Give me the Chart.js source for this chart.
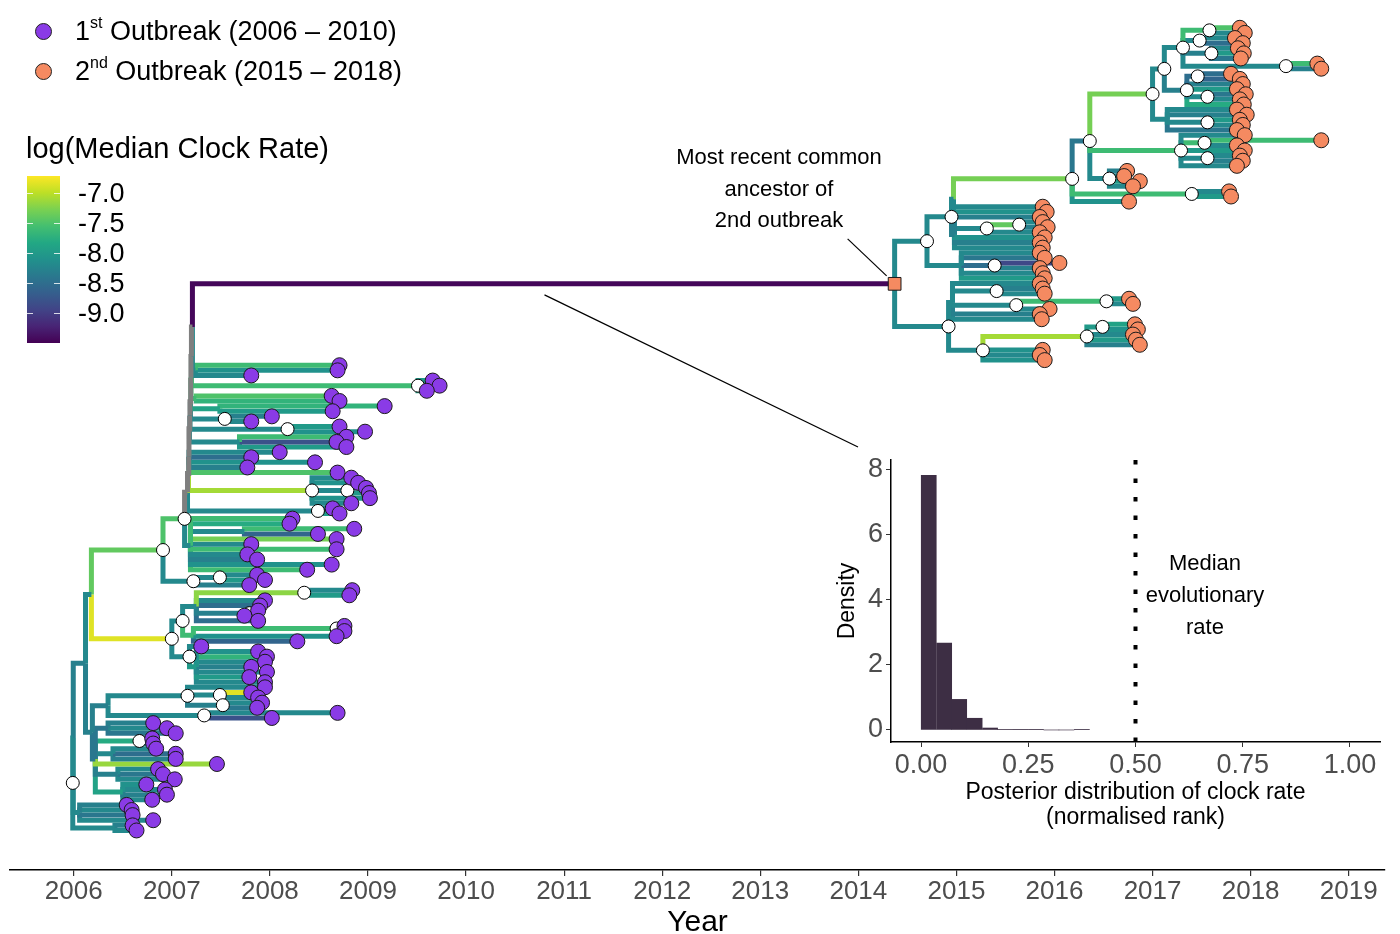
<!DOCTYPE html>
<html>
<head>
<meta charset="utf-8">
<script src="https://cdn.jsdelivr.net/npm/chart.js@4.4.1/dist/chart.umd.min.js"></script>
<style>
  body { margin: 0; background: #fff; font-family: "Liberation Sans", Arial, sans-serif; }
  #wrap { position: relative; width: 1400px; height: 934px; overflow: hidden; }
  #tree { position: absolute; left: 0; top: 0; }
  #inset { position: absolute; left: 820px; top: 440px; }
  .txt { position: absolute; color: #000; white-space: nowrap; }
  .leg { font-size: 27px; line-height: 30px; }
  .leg sup { font-size: 16px; vertical-align: 12px; line-height: 0; }
  .dot { position: absolute; width: 15px; height: 15px; border-radius: 50%; border: 1px solid #222; }
  .note { font-size: 22px; line-height: 31.5px; text-align: center; }
</style>
</head>
<body>
<div id="wrap">
  <canvas id="tree" width="1400" height="934"></canvas>
  <canvas id="inset" width="575" height="400"></canvas>

  <div class="dot" style="left:35px;top:23px;background:#8a3be6"></div>
  <div class="txt leg" style="left:75px;top:16px">1<sup>st</sup> Outbreak (2006 – 2010)</div>
  <div class="dot" style="left:35px;top:63px;background:#f58a61"></div>
  <div class="txt leg" style="left:75px;top:56px">2<sup>nd</sup> Outbreak (2015 – 2018)</div>
  <div class="txt" style="left:26px;top:132px;font-size:29px;line-height:32px">log(Median Clock Rate)</div>
  <div id="colorbar" style="position:absolute;left:27px;top:176px;width:33px;height:167px"></div>

  <div class="txt note" style="left:629px;top:141px;width:300px">Most recent common<br>ancestor of<br>2nd outbreak</div>
  <div class="txt" style="left:1105px;top:547px;width:200px;font-size:22px;line-height:32px;text-align:center">Median<br>evolutionary<br>rate</div>
</div>

<script>
// ---------- data ----------
const yearTicks = [2006, 2007, 2008, 2009, 2010, 2011, 2012, 2013, 2014, 2015, 2016, 2017, 2018, 2019];
const rateTicks = [-7.0, -7.5, -8.0, -8.5, -9.0];
const rateMin = -9.5, rateMax = -6.72;

// histogram of normalised rank of the clock rate
const rankBinCentres = [0.018, 0.054, 0.089, 0.125, 0.161, 0.196, 0.232, 0.268, 0.304, 0.339, 0.375];
const rankDensity = [7.83, 2.67, 0.94, 0.36, 0.06, 0.02, 0.01, 0.01, 0, 0, 0.01];
const rankTicks = [0, 0.25, 0.5, 0.75, 1];
const densityTicks = [0, 2, 4, 6, 8];
const medianRank = 0.5;

// tree nodes: tip = [year, log rate]; internal = [year, log rate, marker, children]
// marker 0 none, 1 white node, 2 square (MRCA of 2nd outbreak); null rate = grey branch

// 2nd outbreak
const tcTopA = [2017.31, -8.2, 1, [
  [2017.58, -7.6, 1, [[2017.89, -7.5], [2017.94, -8.2]]],
  [2017.48, -8.2, 1, [[2017.84, -8.2], [2017.92, -8.5]]],
  [2017.60, -8.3, 1, [[2017.87, -8.2], [2017.93, -8.0], [2017.90, -8.4]]],
  [2018.36, -8.2, 1, [[2018.68, -7.6], [2018.72, -8.3]]]
]];
const tcTopB = [2017.35, -8.3, 1, [
  [2017.46, -8.5, 1, [[2017.80, -8.5], [2017.89, -8.6]]],
  [2017.92, -8.3],
  [2017.86, -8.0],
  [2017.56, -8.2, 1, [[2017.95, -8.4], [2017.89, -8.2]]],
  [2017.93, -7.8]
]];
const tcLower = [2017.15, -8.2, 0, [
  [2017.86, -8.2], [2017.96, -8.3],
  [2017.56, -8.2, 1, [[2017.89, -8.0], [2017.92, -8.2]]],
  [2017.86, -8.4]
]];
const topClade = [2017.00, -7.3, 1, [[2017.12, -8.2, 1, [tcTopA, tcTopB]], tcLower]];
const greenClade = [2017.29, -7.6, 1, [
  [2017.94, -8.2],
  [2017.53, -7.6, 1, [[2018.72, -7.6], [2017.86, -8.2]]],
  [2017.94, -8.0],
  [2017.56, -8.2, 1, [[2017.89, -8.2], [2017.92, -8.3]]],
  [2017.86, -8.2]
]];
const midClade = [2016.56, -8.2, 1, [[2016.74, -8.3], [2016.71, -8.2], [2016.87, -8.0], [2016.80, -8.2]]];
const upperClade = [2016.18, -7.3, 1, [
  [2016.36, -8.4, 1, [topClade, greenClade, midClade]],
  [2017.40, -7.6, 1, [[2017.78, -8.2], [2017.80, -8.0]]],
  [2016.76, -8.1]
]];
const u1Top = [2014.97, -8.2, 0, [upperClade, [2015.88, -8.2], [2015.92, -8.1]]];
const u1Low = [2014.98, -8.3, 0, [
  [2015.85, -8.3],
  [2015.31, -8.2, 1, [[2015.64, -7.4, 1, [[2015.88, -8.2], [2015.93, -8.3]]], [2015.85, -8.2]]],
  [2015.90, -8.1], [2015.85, -8.3], [2015.88, -8.2]
]];
const u2 = [2015.05, -8.2, 0, [
  [2015.85, -8.2], [2015.90, -8.4],
  [2015.39, -8.5, 1, [[2016.05, -8.9], [2015.85, -8.3]]],
  [2015.88, -8.2], [2015.90, -8.0]
]];
const l1 = [2014.96, -8.2, 0, [
  [2015.85, -8.2],
  [2015.41, -8.2, 1, [[2015.88, -8.3], [2015.90, -8.2]]],
  [2015.61, -8.2, 1, [[2016.53, -7.6, 1, [[2016.76, -8.0], [2016.80, -8.2]]], [2015.95, -8.2]]],
  [2015.85, -8.3], [2015.87, -8.2]
]];
const l2 = [2015.27, -8.2, 1, [
  [2016.33, -7.1, 1, [[2016.49, -8.0, 1, [[2016.82, -7.9], [2016.85, -8.1]]], [2016.80, -8.2], [2016.83, -8.0], [2016.87, -8.3]]],
  [2015.88, -8.1], [2015.85, -8.2], [2015.90, -8.1]
]];
const secondOutbreak = [2014.37, -9.45, 2, [
  [2014.70, -8.2, 1, [[2014.95, -8.2, 1, [u1Top, u1Low]], u2]],
  [2014.92, -8.2, 1, [l1, l2]]
]];

// 1st outbreak
const stemToP = [2007.24, -8.2, 0, [[2008.71, -7.6], [2008.69, -8.1], [2007.81, -8.2]]];
const splitNode = [2007.21, null, 0, [secondOutbreak, stemToP]];
const combA = [2009.51, -7.6, 1, [[2009.66, -8.0], [2009.73, -8.2], [2009.60, -7.9]]];
const combB = [2007.25, -7.6, 0, [[2008.63, -7.5], [2008.71, -7.7]]];
const combC = [2007.49, -7.9, 0, [[2009.17, -7.7], [2008.64, -8.0]]];
const combD = [2007.54, -8.2, 1, [[2008.02, -8.3], [2007.81, -8.2]]];
const combE = [2008.18, -8.2, 1, [[2008.71, -8.0], [2008.97, -8.1]]];
const combF = [2007.69, -8.2, 0, [[2008.78, -7.6], [2008.68, -8.8], [2008.78, -8.0]]];
const combG = [[2008.10, -8.2], [2007.81, -8.5], [2008.46, -8.1], [2007.77, -8.3], [2008.69, -7.5]];
const combH = [2008.43, -7.1, 1, [[2008.83, -8.2], [2008.90, -8.1], [2008.79, -8.2, 1, [[2008.98, -8.2], [2009.01, -8.0]]], [2009.02, -8.1], [2008.83, -8.2]]];
const combI = [2008.49, -8.2, 1, [[2008.64, -8.2], [2008.71, -8.0]]];
const ladder8 = [2007.200, null, 0, [splitNode, combA]];
const ladder7 = [2007.195, null, 0, [ladder8, combB]];
const ladder6 = [2007.190, null, 0, [ladder7, combC, combD]];
const ladder5 = [2007.185, null, 0, [ladder6, combE]];
const ladder4 = [2007.180, null, 0, [ladder5, combF]];
const ladder3 = [2007.175, null, 0, [ladder4, ...combG]];
const ladder2 = [2007.170, null, 0, [ladder3, combH]];
const ladder1 = [2007.160, null, 0, [ladder2, combI]];
const lowerComb = [2007.19, -8.2, 0, [
  [2008.23, -7.6], [2008.20, -7.8],
  [2007.74, -8.2, 0, [[2008.86, -7.6], [2008.49, -8.6]]],
  [2008.68, -7.3], [2007.81, -8.2], [2008.68, -7.6], [2007.77, -8.2], [2007.87, -8.3], [2008.63, -8.1], [2008.38, -7.6]
]];
const backboneBase = [2007.13, -7.5, 1, [ladder1, lowerComb]];
const sideClade = [2007.22, -8.2, 1, [[2007.49, -8.2, 1, [[2007.87, -8.2], [2007.95, -8.0]]], [2007.79, -8.3]]];
const greenBranch = [2006.91, -7.4, 1, [backboneBase, sideClade]];
const yellowUpper = [2007.11, -8.2, 1, [
  [2007.25, -8.2, 0, [
    [2008.35, -7.2, 1, [[2008.84, -8.2], [2008.81, -8.0]]],
    [2007.95, -8.2], [2007.90, -8.5],
    [2007.79, -8.3, 1, [[2007.88, -8.5], [2007.74, -8.3]]],
    [2007.88, -8.5]
  ]],
  [2007.22, -7.6, 0, [
    [2008.68, -7.6, 1, [[2008.76, -8.2], [2008.76, -8.0]]],
    [2008.68, -8.1], [2008.28, -8.6]
  ]]
]];
const yellowLower = [2007.18, -8.2, 1, [
  [2007.30, -8.2],
  [2007.25, -8.0, 0, [[2007.88, -8.1], [2007.97, -7.7], [2007.95, -8.2], [2007.81, -8.3], [2007.97, -8.2], [2007.79, -8.0], [2007.95, -8.2]]]
]];
const yellowBranch = [2007.00, -6.85, 1, [yellowUpper, yellowLower]];
const earlySplit = [2006.18, -8.2, 0, [greenBranch, yellowBranch]];
const zUpper = [2006.35, -8.3, 0, [
  [2007.16, -8.2, 1, [[2007.95, -8.2], [2007.49, -8.2, 1, [[2007.81, -6.85], [2007.88, -8.2]]], [2007.52, -8.3, 1, [[2007.92, -8.2], [2007.87, -8.4]]]]],
  [2007.33, -8.2, 1, [[2008.69, -8.2], [2008.02, -8.8]]]
]];
const zLower = [2006.22, -8.4, 0, [
  [2006.35, -8.4, 0, [[2006.81, -8.3], [2006.95, -8.2], [2007.04, -8.4]]],
  [2006.67, -7.8, 1, [[2006.80, -8.0], [2006.81, -8.2]]],
  [2006.40, -8.2, 0, [[2006.84, -8.2], [2007.04, -8.5], [2007.04, -8.3]]],
  [2007.46, -7.15],
  [2006.45, -8.3, 0, [[2006.86, -8.2], [2006.91, -8.4], [2007.03, -8.2]]],
  [2006.50, -7.9, 0, [[2006.74, -8.1], [2006.93, -8.2], [2006.95, -8.3], [2006.80, -8.2]]]
]];
const lateSplit = [2006.19, -8.3, 0, [zUpper, zLower]];
const rootUpper = [2006.12, -8.3, 0, [earlySplit, lateSplit]];
const rootLower = [2006.06, -8.2, 0, [[2006.54, -8.3], [2006.59, -8.2], [2006.60, -8.4], [2006.81, -8.2]]];
const rootBottom = [2006.42, -8.2, 0, [[2006.60, -8.3], [2006.64, -8.2]]];
const treeRoot = [2005.99, null, 1, [[2005.995, -8.2, 0, [rootUpper, rootLower]], rootBottom]];

// ---------- colours ----------
const viridisStops = ['#440154', '#482475', '#414487', '#355f8d', '#2a788e', '#21918c', '#22a884', '#44bf70', '#7ad151', '#bddf26', '#fde725'];
function hex(h) { return [1, 3, 5].map(i => parseInt(h.substr(i, 2), 16)); }
function viridis(t) {
  t = Math.max(0, Math.min(1, t));
  const p = t * (viridisStops.length - 1);
  const i = Math.min(viridisStops.length - 2, Math.floor(p)), f = p - i;
  const a = hex(viridisStops[i]), b = hex(viridisStops[i + 1]);
  return 'rgb(' + a.map((c, k) => Math.round(c + (b[k] - c) * f)).join(',') + ')';
}
function rateColour(r) { return r === null ? '#7f7f7f' : viridis((r - rateMin) / (rateMax - rateMin)); }

// ---------- tree layout (tips in order, internal node = mean of children) ----------
const nodes = [];
let tipCount = 0;
function place(node, parent, group) {
  const [year, rate, mark, kids] = node;
  const item = { year, rate, mark, parent, group: mark === 2 ? 2 : group, tip: !kids };
  nodes.push(item);
  if (kids) {
    const ys = kids.map(k => place(k, item, item.group).y);
    item.y = ys.reduce((a, b) => a + b, 0) / ys.length;
  } else {
    item.y = tipCount++;
  }
  return item;
}
place(treeRoot, null, 1);
const mrca = nodes.find(n => n.mark === 2);

const datasets = [];
nodes.filter(n => n.parent).forEach(n => {
  datasets.push({
    type: 'line',
    data: [{ x: n.parent.year, y: n.parent.y }, { x: n.parent.year, y: n.y }, { x: n.year, y: n.y }],
    borderColor: rateColour(n.rate),
    borderWidth: 5,
    pointRadius: 0,
    tension: 0,
    borderJoinStyle: 'miter',
    order: 3
  });
});
const pt = n => ({ x: n.year, y: n.y });
datasets.push({
  type: 'scatter', data: nodes.filter(n => n.mark === 1).map(pt),
  pointRadius: 6.5, pointBackgroundColor: '#fff', pointBorderColor: '#000', pointBorderWidth: 1, order: 2
});
datasets.push({
  type: 'scatter', data: nodes.filter(n => n.tip && n.group === 1).map(pt),
  pointRadius: 7.5, pointBackgroundColor: '#8a3be6', pointBorderColor: '#1a1a1a', pointBorderWidth: 1, order: 1
});
datasets.push({
  type: 'scatter', data: nodes.filter(n => n.tip && n.group === 2).map(pt),
  pointRadius: 7.5, pointBackgroundColor: '#f58a61', pointBorderColor: '#1a1a1a', pointBorderWidth: 1, order: 1
});
datasets.push({
  type: 'scatter', data: [pt(mrca)], pointStyle: 'rect',
  pointRadius: 9, pointBackgroundColor: '#f58a61', pointBorderColor: '#1a1a1a', pointBorderWidth: 1, order: 0
});

// first tip sits 18px below the top, last tip at 830px (axis at 870)
const ySpan = (tipCount - 1) * 870 / 812;
const yMin = -18 / 870 * ySpan;

Chart.defaults.font.family = "'Liberation Sans', Arial, sans-serif";

const connectors = {
  id: 'connectors',
  afterDatasetsDraw(chart) {
    const { ctx, scales: { x, y } } = chart;
    const mx = x.getPixelForValue(mrca.year), my = y.getPixelForValue(mrca.y);
    ctx.save();
    ctx.strokeStyle = '#000';
    ctx.lineWidth = 1.2;
    ctx.beginPath();
    ctx.moveTo(mx - 47, my - 45);
    ctx.lineTo(mx - 8, my - 8);
    ctx.stroke();
    ctx.beginPath();
    ctx.moveTo(x.getPixelForValue(2010.8), my + 11);
    ctx.lineTo(858, 447);
    ctx.stroke();
    ctx.restore();
  }
};

new Chart(document.getElementById('tree'), {
  type: 'line',
  data: { datasets },
  options: {
    responsive: false,
    animation: false,
    events: [],
    layout: { padding: { left: 10, right: 15, top: 0, bottom: 0 } },
    plugins: { legend: { display: false }, tooltip: { enabled: false } },
    scales: {
      x: {
        type: 'linear', min: 2005.35, max: 2019.37,
        afterBuildTicks: s => { s.ticks = yearTicks.map(v => ({ value: v })); },
        afterFit: s => { s.height = 64; },
        grid: { display: true, drawOnChartArea: false, drawTicks: true, tickLength: 6, color: '#333', lineWidth: 1.2 },
        border: { display: true, color: '#000', width: 1.5 },
        ticks: { color: '#4d4d4d', font: { size: 26 }, padding: 0, maxRotation: 0, autoSkip: false, callback: v => String(v) },
        title: { display: true, text: 'Year', color: '#000', font: { size: 30, lineHeight: 1 }, padding: { top: 0, bottom: -4 } }
      },
      y: { type: 'linear', reverse: true, display: false, min: yMin, max: yMin + ySpan }
    }
  },
  plugins: [connectors]
});

// ---------- inset histogram ----------
new Chart(document.getElementById('inset'), {
  type: 'bar',
  data: {
    datasets: [
      {
        type: 'line',
        data: [{ x: medianRank, y: -0.37 }, { x: medianRank, y: 8.3 }],
        borderColor: '#000', borderWidth: 4, borderDash: [4.5, 14], pointRadius: 0, order: 0
      },
      {
        type: 'bar',
        data: rankBinCentres.map((x, i) => ({ x, y: rankDensity[i] })),
        backgroundColor: '#3d2e44', borderWidth: 0, barPercentage: 1, categoryPercentage: 1, order: 1
      }
    ]
  },
  options: {
    responsive: false,
    animation: false,
    events: [],
    layout: { padding: { left: 0, right: 15, top: 20, bottom: 0 } },
    plugins: { legend: { display: false }, tooltip: { enabled: false } },
    scales: {
      x: {
        type: 'linear', min: -0.07, max: 1.07, offset: false,
        afterBuildTicks: s => { s.ticks = rankTicks.map(v => ({ value: v })); },
        afterFit: s => { s.height = 98; },
        grid: { display: true, offset: false, drawOnChartArea: false, drawTicks: true, tickLength: 5, color: '#333' },
        border: { display: true, color: '#000', width: 1.5 },
        ticks: { color: '#4d4d4d', font: { size: 27 }, padding: 2, maxRotation: 0, autoSkip: false, callback: v => v.toFixed(2) },
        title: {
          display: true, text: ['Posterior distribution of clock rate', '(normalised rank)'],
          color: '#000', font: { size: 23, lineHeight: 1.09 }, padding: { top: 0, bottom: 10 }
        }
      },
      y: {
        type: 'linear', min: -0.37, max: 8.3,
        afterBuildTicks: s => { s.ticks = densityTicks.map(v => ({ value: v })); },
        afterFit: s => { s.width = 71; },
        grid: { display: true, drawOnChartArea: false, drawTicks: true, tickLength: 5, color: '#333' },
        border: { display: true, color: '#000', width: 1.5 },
        ticks: { color: '#4d4d4d', font: { size: 27 }, padding: 3, callback: v => String(v) },
        title: { display: true, text: 'Density', color: '#000', font: { size: 23 }, padding: { top: 14, bottom: 0 } }
      }
    }
  }
});

// ---------- colour bar legend ----------
const bar = document.getElementById('colorbar');
bar.style.background = 'linear-gradient(to top,' + viridisStops.join(',') + ')';
rateTicks.forEach(v => {
  const top = (rateMax - v) / (rateMax - rateMin) * 167;
  ['0px', '27px'].forEach(left => {
    const t = document.createElement('div');
    t.style.cssText = `position:absolute;left:${left};top:${top}px;width:6px;height:1px;background:rgba(255,255,255,0.8)`;
    bar.appendChild(t);
  });
  const lab = document.createElement('div');
  lab.className = 'txt';
  lab.style.cssText = `left:51px;top:${top - 15}px;font-size:27px;line-height:30px`;
  lab.textContent = v.toFixed(1);
  bar.appendChild(lab);
});
</script>
</body>
</html>
